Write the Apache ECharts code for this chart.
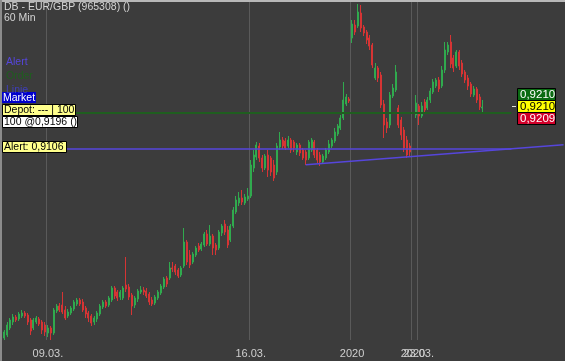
<!DOCTYPE html>
<html><head><meta charset="utf-8">
<script src="https://cdn.jsdelivr.net/npm/echarts@6/dist/echarts.min.js"></script>
<style>html,body{margin:0;padding:0;background:#3c3c3c;}#c{width:565px;height:361px;}</style>
</head><body><div id="c"></div>
<script>
// ---- data ----
const slotCount = 194; // hourly slots on the x axis (including empty space to the right)
// [open, close, low, high]
const candles = [
[0.8634,0.8649,0.8629,0.8654],[0.86415,0.86665,0.86365,0.8674],[0.8659,0.8679,0.8654,0.8684],[0.8674,0.86865,0.86665,0.8694],
[0.86865,0.8679,0.8674,0.86915],[0.86815,0.8694,0.86765,0.8699],[0.8689,0.86965,0.8684,0.8704],[0.86965,0.8689,0.8684,0.87015],
[0.86915,0.8674,0.86665,0.86965],[0.8679,0.86515,0.86415,0.8684],[0.8659,0.8679,0.8654,0.8684],[0.8674,0.8684,0.8669,0.8689],
[0.86815,0.8669,0.8664,0.86865],[0.8674,0.8654,0.8644,0.8679],[0.86665,0.8649,0.8639,0.8674],[0.86465,0.8659,0.86365,0.86665],
[0.8659,0.86465,0.8629,0.8664],[0.86465,0.8704,0.86415,0.8709],[0.87015,0.8714,0.86965,0.8719],[0.8714,0.8704,0.8699,0.87215],
[0.87165,0.8699,0.8694,0.8749],[0.8704,0.8684,0.8679,0.8714],[0.8689,0.8699,0.8684,0.87065],[0.86965,0.8709,0.86915,0.8714],
[0.87065,0.8724,0.87015,0.8729],[0.8719,0.8729,0.8714,0.8734],[0.8729,0.8719,0.8714,0.8734],[0.8724,0.8704,0.8699,0.87315],
[0.8709,0.8694,0.8684,0.8714],[0.86965,0.8684,0.8674,0.87015],[0.8689,0.86715,0.8664,0.8694],[0.8674,0.8684,0.86665,0.8689],
[0.86815,0.86965,0.8674,0.87015],[0.8694,0.8714,0.8689,0.8719],[0.87115,0.8724,0.87065,0.8729],[0.8724,0.8714,0.8709,0.8729],
[0.87165,0.8734,0.87115,0.8739],[0.8729,0.8759,0.8724,0.8764],[0.8759,0.8739,0.87315,0.8764],[0.8749,0.8734,0.87265,0.8754],
[0.87365,0.8749,0.8729,0.8754],[0.8734,0.8759,0.8729,0.8764],[0.87665,0.87565,0.8749,0.88365],[0.87615,0.87365,0.8729,0.8769],
[0.87415,0.8714,0.86915,0.87465],[0.87165,0.8734,0.8709,0.8739],[0.87315,0.87515,0.8724,0.87565],[0.8749,0.8754,0.8744,0.8764],
[0.8754,0.8749,0.87415,0.87615],[0.87515,0.8739,0.8734,0.8759],[0.8744,0.8724,0.87165,0.8749],[0.8729,0.8719,0.8714,0.87365],
[0.87215,0.87365,0.87165,0.87415],[0.8734,0.8749,0.8729,0.8754],[0.87465,0.8764,0.87415,0.8769],[0.87615,0.87815,0.87565,0.87865],
[0.8784,0.8769,0.87615,0.8789],[0.8784,0.8809,0.8779,0.8824],[0.8809,0.88065,0.8799,0.8824],[0.8814,0.8799,0.87915,0.8819],
[0.8804,0.8789,0.8784,0.8809],[0.87915,0.8809,0.87865,0.8814],[0.8814,0.8874,0.8809,0.8909],[0.8874,0.8824,0.88165,0.8879],
[0.88415,0.88165,0.8809,0.8854],[0.8824,0.8844,0.8819,0.8849],[0.88415,0.8859,0.88365,0.8864],[0.8864,0.8854,0.8849,0.88715],
[0.88565,0.8869,0.88515,0.8874],[0.88665,0.8894,0.88615,0.8899],[0.8894,0.8869,0.8864,0.8904],[0.8869,0.8889,0.8864,0.89165],
[0.8889,0.8859,0.88415,0.8894],[0.88665,0.8854,0.88415,0.88715],[0.8859,0.8899,0.8854,0.8904],[0.88965,0.8914,0.8889,0.8919],
[0.8919,0.8899,0.88915,0.8929],[0.8904,0.88665,0.8859,0.8914],[0.8879,0.8914,0.8874,0.8919],[0.8914,0.8954,0.8909,0.89615],
[0.8949,0.8979,0.8944,0.8989],[0.89715,0.8984,0.8964,0.8999],[0.8984,0.8974,0.89665,0.9004],[0.89715,0.89865,0.89665,0.8994],
[0.89815,0.8989,0.89765,0.9009],[0.8989,0.90665,0.8984,0.9079],[0.9059,0.90915,0.9049,0.9104],[0.90865,0.91165,0.9079,0.9124],
[0.9114,0.9084,0.9074,0.91215],[0.9084,0.9059,0.9049,0.90915],[0.9059,0.9089,0.9054,0.9094],[0.90915,0.9054,0.90365,0.9104],
[0.9084,0.9049,0.9039,0.9089],[0.90665,0.9034,0.90265,0.9079],[0.9049,0.9114,0.90415,0.91215],[0.91115,0.9129,0.9104,0.9149],
[0.9129,0.9114,0.91065,0.91365],[0.91265,0.9109,0.9104,0.9134],[0.9114,0.9129,0.9109,0.9139],[0.9129,0.9104,0.90965,0.9134],
[0.9124,0.9109,0.9099,0.9129],[0.9099,0.91165,0.90915,0.91215],[0.91165,0.90965,0.9089,0.91215],[0.9104,0.9084,0.9079,0.9109],
[0.9099,0.9079,0.90665,0.9104],[0.9084,0.9124,0.9079,0.9129],[0.9104,0.9129,0.9099,0.9134],[0.9124,0.90915,0.9084,0.9129],
[0.9104,0.9079,0.90715,0.9109],[0.90915,0.9074,0.9064,0.9099],[0.9074,0.9089,0.9069,0.9094],[0.9084,0.9104,0.9079,0.9109],
[0.9099,0.9119,0.9094,0.9129],[0.9114,0.9129,0.9109,0.9134],[0.91265,0.9149,0.91215,0.9159],[0.9144,0.9164,0.9139,0.9169],
[0.9159,0.9184,0.9154,0.91915],[0.9184,0.9229,0.9179,0.9274],[0.9219,0.92365,0.9214,0.9244],[0.92315,0.92265,0.92215,0.92365],
[0.9384,0.9419,0.93715,0.9429],[0.94165,0.9399,0.93915,0.9429],[0.9414,0.9449,0.9409,0.9469],[0.94465,0.9409,0.9399,0.94665],
[0.94115,0.93965,0.9389,0.94165],[0.9399,0.9379,0.9369,0.9404],[0.9384,0.9364,0.9354,0.93915],[0.93665,0.93165,0.9309,0.93715],
[0.9284,0.9309,0.9279,0.93215],[0.9309,0.9284,0.9274,0.9314],[0.92915,0.92165,0.9209,0.9299],[0.9219,0.91665,0.9134,0.9229],
[0.9174,0.9159,0.91465,0.9184],[0.91665,0.92415,0.9159,0.9249],[0.9239,0.9259,0.9234,0.9269],[0.9254,0.9299,0.9249,0.93165],
[0.9209,0.91665,0.9159,0.92165],[0.9179,0.91415,0.9129,0.91865],[0.9154,0.9109,0.9099,0.91615],[0.9129,0.90915,0.9084,0.9139],
[0.9114,0.9099,0.9089,0.91215],null,[0.91915,0.92215,0.9184,0.92415],[0.9214,0.9189,0.91665,0.9219],
[0.9189,0.9214,0.9184,0.9224],[0.9224,0.9204,0.91965,0.92315],[0.9209,0.9229,0.9204,0.92365],[0.9229,0.92515,0.92215,0.9259],
[0.9249,0.9274,0.9244,0.92815],[0.9264,0.9279,0.9259,0.9284],[0.9279,0.92565,0.9249,0.92865],[0.9264,0.9304,0.9259,0.9314],
[0.9304,0.9354,0.92965,0.9374],[0.9349,0.93665,0.93415,0.9374],[0.9374,0.9319,0.9309,0.93915],[0.9334,0.9309,0.9299,0.93415],
[0.9314,0.9349,0.9309,0.9354],[0.9349,0.9314,0.9304,0.9354],[0.93215,0.9294,0.92865,0.9329],[0.9299,0.9279,0.92715,0.9304],
[0.9284,0.9264,0.9254,0.92915],[0.9269,0.9244,0.92365,0.9274],[0.92415,0.92565,0.92365,0.9264],[0.92565,0.9229,0.92215,0.92615],
[0.92365,0.92115,0.9204,0.9244],[0.9209,0.92115,0.9199,0.9229]
];
// x-axis ticks (slot index -> label); the last one overlaps the previous in the original
const tickIdx  = [15, 85, 120, 141, 143];
const tickText = ['09.03.', '16.03.', '2020', '2020', '23.03.'];
const depotPrice = 0.9196;
const alertPrice = 0.9106;
const levelLineEnd = 175;          // slot where the horizontal level lines stop
const trendIdx   = [104, 193];
const trendPrice = [0.9067, 0.9117];
const quoteAsk = '0,9210', quoteLast = '0,9210', quoteBid = '0,9209';
const priceMin = 0.8629, priceMax = 0.9479;

// ---- build ----
const categories = [];
for (let i = 0; i < slotCount; i++) categories.push(String(i));
const seriesData = candles.map(c => c ? c : ['-', '-', '-', '-']);

const FONT = '"Liberation Sans", Arial, sans-serif';
const FS = 10.5;
function txt(x, y, text, fill, size, weight) {
  return {type: 'text', x: x, y: y, silent: true, z: 10,
    style: {text: text, fill: fill, font: (weight || 'normal') + ' ' + (size || FS) + 'px ' + FONT, verticalAlign: 'top', align: 'left'}};
}
function box(x, y, w, h, fill, stroke) {
  return {type: 'rect', silent: true, z: 9, shape: {x: x, y: y, width: w, height: h},
    style: {fill: fill, stroke: stroke || null, lineWidth: stroke ? 1 : 0}};
}
// split tick labels over two stacked axes so the overlapping pair both render
const labelsA = tickIdx.slice(0, tickIdx.length - 1);
const labelsB = tickIdx.slice(tickIdx.length - 1);
function xAxisFor(showIdx, withLines) {
  return {
    type: 'category', data: categories, boundaryGap: true, position: 'bottom', offset: 0,
    axisLine: {show: false}, axisTick: {show: false},
    axisLabel: {
      interval: (i) => showIdx.indexOf(i) >= 0,
      formatter: (v, i) => { const k = tickIdx.indexOf(i); return k >= 0 ? tickText[k] : ''; },
      color: '#cfcfcf', fontSize: 11, fontFamily: FONT, margin: 8, hideOverlap: false
    },
    splitLine: {show: withLines, interval: (i) => tickIdx.indexOf(i) >= 0, lineStyle: {color: '#5a5a5a', width: 1}}
  };
}

const GREEN = '#30aa4e', RED = '#d63434';
const chart = echarts.init(document.getElementById('c'), null, {renderer: 'canvas'});
chart.setOption({
  animation: false,
  backgroundColor: '#3c3c3c',
  grid: {left: 3, right: 0, top: 0, bottom: 21},
  xAxis: [xAxisFor(labelsA, true), xAxisFor(labelsB, false)],
  yAxis: {type: 'value', min: priceMin, max: priceMax, show: false, splitLine: {show: false}},
  series: [{
    type: 'candlestick', data: seriesData, barWidth: 1.5, silent: true, xAxisIndex: 0,
    itemStyle: {color: GREEN, color0: RED, borderColor: GREEN, borderColor0: RED, borderWidth: 1},
    markLine: {
      silent: true, symbol: ['none', 'none'], label: {show: false}, animation: false,
      lineStyle: {type: 'solid'},
      emphasis: {disabled: true},
      data: [
        [{coord: [0, depotPrice], lineStyle: {color: '#1f5e1f', width: 2, type: 'solid'}},
         {coord: [levelLineEnd, depotPrice], lineStyle: {color: '#1f5e1f', width: 2, type: 'solid'}}],
        [{coord: [0, alertPrice], lineStyle: {color: '#5646dc', width: 1.5, type: 'solid'}},
         {coord: [levelLineEnd, alertPrice], lineStyle: {color: '#5646dc', width: 1.5, type: 'solid'}}],
        [{coord: [trendIdx[0], trendPrice[0]], lineStyle: {color: '#5646dc', width: 1.5, type: 'solid'}},
         {coord: [trendIdx[1], trendPrice[1]], lineStyle: {color: '#5646dc', width: 1.5, type: 'solid'}}]
      ]
    }
  }],
  graphic: [
    box(0, 0, 565, 2, '#b8b8b8'),
    box(0, 0, 2, 361, '#8c8c8c'),
    txt(4, 2, 'DB - EUR/GBP (965308) ()', '#d4d4d4'),
    txt(4, 13, '60 Min', '#d4d4d4'),
    txt(6, 57, 'Alert', '#5646dc'),
    txt(6, 71, 'Order', '#1f5e1f'),
    txt(6, 85, 'Linie', '#3f3fb8'),
    box(2, 92, 34, 11, '#0000cc'),
    txt(3, 92.5, 'Market', '#ffffff'),
    box(2.5, 104.5, 73, 11, '#ffff8c', '#000000'),
    txt(4, 105, 'Depot: --- | 100', '#000000'),
    box(2.5, 116.5, 75, 11, '#ffffff', '#000000'),
    txt(4, 117, '100 @0,9196 ()', '#000000'),
    box(2.5, 141.5, 64, 11, '#ffff8c', '#000000'),
    txt(4, 142, 'Alert: 0,9106', '#000000'),
    box(517.5, 88.5, 38, 12, '#0a6a12', '#000000'),
    txt(520, 89, quoteAsk, '#ffffff', 11.5),
    box(517.5, 100.5, 38, 12, '#ffff00', '#000000'),
    txt(520, 101, quoteLast, '#000000', 11.5),
    box(517.5, 112.5, 38, 12, '#d2002a', '#000000'),
    txt(520, 113, quoteBid, '#ffffff', 11.5),
    box(512, 106, 4, 1, '#e0e0e0')
  ]
});
</script></body></html>
